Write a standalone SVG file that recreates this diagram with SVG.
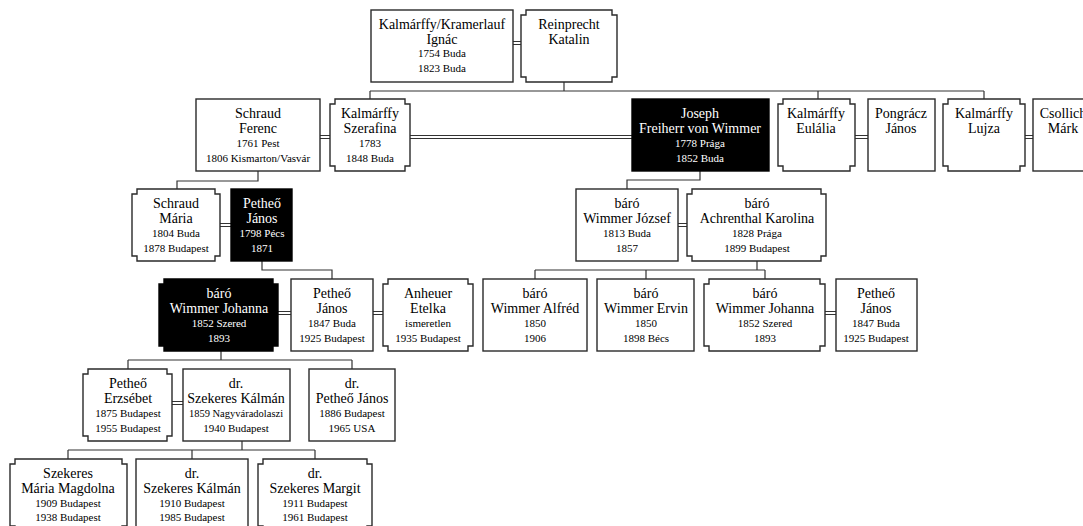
<svg xmlns="http://www.w3.org/2000/svg" width="1083" height="526" viewBox="0 0 1083 526">
<style>
.bx{fill:#fff;stroke:#2a2a2a;stroke-width:1.4}
.bk{fill:#000;stroke:#000;stroke-width:1.4}
.ln{fill:none;stroke:#333;stroke-width:1.2}
.dl{fill:none;stroke:#333;stroke-width:1}
text{font-family:"Liberation Serif","Times New Roman",serif;text-anchor:middle;fill:#000}
.n{font-size:14px}
.d{font-size:11px}
.w{fill:#fff}
</style>
<rect width="1083" height="526" fill="#fff"/>
<g id="connectors">
<path class="ln" d="M564 82V91M370 91H984M370 91V99M818 91V99M984 91V99"/>
<path class="ln" d="M258 171V181H177V189"/>
<path class="ln" d="M700 171V180H627V189"/>
<path class="ln" d="M262 261V270H332V279"/>
<path class="ln" d="M757 261V270M535 270H765M535 270V279M646 270V279M765 270V279"/>
<path class="ln" d="M221 351V360M128 360H352M128 360V369M352 360V369"/>
<path class="ln" d="M242 441V450M68 450H315M68 450V459M192 450V459M315 450V459"/>
<path class="dl" d="M513 41.5H521M513 44.5H521"/>
<path class="dl" d="M320 135.5H330M320 138.5H330M410 135.5H632M410 138.5H632M855 135.5H868M855 138.5H868M1025 135.5H1033M1025 138.5H1033"/>
<path class="dl" d="M220 223.5H231M220 226.5H231M678 223.5H687M678 226.5H687"/>
<path class="dl" d="M278 311.5H291M278 314.5H291M373 311.5H383M373 314.5H383M825 311.5H836M825 314.5H836"/>
<path class="dl" d="M172 401.5H183M172 404.5H183"/>
</g>
<g id="ignac">
<rect class="bx" x="371" y="10" width="142" height="72"/>
<text class="n" x="442" y="29">Kalmárffy/Kramerlauf</text>
<text class="n" x="442" y="44">Ignác</text>
<text class="d" x="442" y="57">1754 Buda</text>
<text class="d" x="442" y="72">1823 Buda</text>
</g>
<g id="reinprecht">
<path class="bx" d="M526 10H612V15H617V77H612V82H526V77H521V15H526Z"/>
<text class="n" x="569" y="29">Reinprecht</text>
<text class="n" x="569" y="44">Katalin</text>
</g>
<g id="ferenc">
<rect class="bx" x="196" y="99" width="124" height="72"/>
<text class="n" x="258" y="118">Schraud</text>
<text class="n" x="258" y="133">Ferenc</text>
<text class="d" x="258" y="147">1761 Pest</text>
<text class="d" x="258" y="162">1806 Kismarton/Vasvár</text>
</g>
<g id="szerafina">
<path class="bx" d="M335 99H405V104H410V166H405V171H335V166H330V104H335Z"/>
<text class="n" x="370" y="118">Kalmárffy</text>
<text class="n" x="370" y="133">Szerafina</text>
<text class="d" x="370" y="147">1783</text>
<text class="d" x="370" y="162">1848 Buda</text>
</g>
<g id="joseph">
<rect class="bk" x="632" y="99" width="137" height="72"/>
<text class="n w" x="700" y="118">Joseph</text>
<text class="n w" x="700" y="133">Freiherr von Wimmer</text>
<text class="d w" x="700" y="147">1778 Prága</text>
<text class="d w" x="700" y="162">1852 Buda</text>
</g>
<g id="eulalia">
<path class="bx" d="M783 99H850V104H855V166H850V171H783V166H778V104H783Z"/>
<text class="n" x="816" y="118">Kalmárffy</text>
<text class="n" x="816" y="133">Eulália</text>
</g>
<g id="pongracz">
<rect class="bx" x="868" y="99" width="67" height="72"/>
<text class="n" x="901" y="118">Pongrácz</text>
<text class="n" x="901" y="133">János</text>
</g>
<g id="lujza">
<path class="bx" d="M948 99H1020V104H1025V166H1020V171H948V166H943V104H948Z"/>
<text class="n" x="984" y="118">Kalmárffy</text>
<text class="n" x="984" y="133">Lujza</text>
</g>
<g id="csollich">
<rect class="bx" x="1033" y="99" width="68" height="72"/>
<text class="n" x="1063" y="118">Csollich</text>
<text class="n" x="1063" y="133">Márk</text>
</g>
<g id="maria">
<path class="bx" d="M137 189H215V194H220V256H215V261H137V256H132V194H137Z"/>
<text class="n" x="176" y="208">Schraud</text>
<text class="n" x="176" y="223">Mária</text>
<text class="d" x="176" y="237">1804 Buda</text>
<text class="d" x="176" y="252">1878 Budapest</text>
</g>
<g id="pethejanos1">
<rect class="bk" x="231" y="189" width="61" height="72"/>
<text class="n w" x="262" y="208">Petheő</text>
<text class="n w" x="262" y="223">János</text>
<text class="d w" x="262" y="237">1798 Pécs</text>
<text class="d w" x="262" y="252">1871</text>
</g>
<g id="jozsef">
<rect class="bx" x="576" y="189" width="102" height="72"/>
<text class="n" x="627" y="208">báró</text>
<text class="n" x="627" y="223">Wimmer József</text>
<text class="d" x="627" y="237">1813 Buda</text>
<text class="d" x="627" y="252">1857</text>
</g>
<g id="achrenthal">
<path class="bx" d="M692 189H821V194H826V256H821V261H692V256H687V194H692Z"/>
<text class="n" x="757" y="208">báró</text>
<text class="n" x="757" y="223">Achrenthal Karolina</text>
<text class="d" x="757" y="237">1828 Prága</text>
<text class="d" x="757" y="252">1899 Budapest</text>
</g>
<g id="johanna1">
<path class="bk" d="M164 279H273V284H278V346H273V351H164V346H159V284H164Z"/>
<text class="n w" x="219" y="298">báró</text>
<text class="n w" x="219" y="313">Wimmer Johanna</text>
<text class="d w" x="219" y="327">1852 Szered</text>
<text class="d w" x="219" y="342">1893</text>
</g>
<g id="pethejanos2">
<rect class="bx" x="291" y="279" width="82" height="72"/>
<text class="n" x="332" y="298">Petheő</text>
<text class="n" x="332" y="313">János</text>
<text class="d" x="332" y="327">1847 Buda</text>
<text class="d" x="332" y="342">1925 Budapest</text>
</g>
<g id="anheuer">
<path class="bx" d="M388 279H468V284H473V346H468V351H388V346H383V284H388Z"/>
<text class="n" x="428" y="298">Anheuer</text>
<text class="n" x="428" y="313">Etelka</text>
<text class="d" x="428" y="327">ismeretlen</text>
<text class="d" x="428" y="342">1935 Budapest</text>
</g>
<g id="alfred">
<rect class="bx" x="483" y="279" width="104" height="72"/>
<text class="n" x="535" y="298">báró</text>
<text class="n" x="535" y="313">Wimmer Alfréd</text>
<text class="d" x="535" y="327">1850</text>
<text class="d" x="535" y="342">1906</text>
</g>
<g id="ervin">
<rect class="bx" x="597" y="279" width="97" height="72"/>
<text class="n" x="646" y="298">báró</text>
<text class="n" x="646" y="313">Wimmer Ervin</text>
<text class="d" x="646" y="327">1850</text>
<text class="d" x="646" y="342">1898 Bécs</text>
</g>
<g id="johanna2">
<path class="bx" d="M709 279H820V284H825V346H820V351H709V346H704V284H709Z"/>
<text class="n" x="765" y="298">báró</text>
<text class="n" x="765" y="313">Wimmer Johanna</text>
<text class="d" x="765" y="327">1852 Szered</text>
<text class="d" x="765" y="342">1893</text>
</g>
<g id="pethejanos3">
<rect class="bx" x="836" y="279" width="81" height="72"/>
<text class="n" x="876" y="298">Petheő</text>
<text class="n" x="876" y="313">János</text>
<text class="d" x="876" y="327">1847 Buda</text>
<text class="d" x="876" y="342">1925 Budapest</text>
</g>
<g id="erzsebet">
<path class="bx" d="M88 369H167V374H172V436H167V441H88V436H83V374H88Z"/>
<text class="n" x="128" y="388">Petheő</text>
<text class="n" x="128" y="403">Erzsébet</text>
<text class="d" x="128" y="417">1875 Budapest</text>
<text class="d" x="128" y="432">1955 Budapest</text>
</g>
<g id="kalman1">
<rect class="bx" x="183" y="369" width="107" height="72"/>
<text class="n" x="236" y="388">dr.</text>
<text class="n" x="236" y="403">Szekeres Kálmán</text>
<text class="d" x="236" y="417" style="font-size:10.5px">1859 Nagyváradolaszi</text>
<text class="d" x="236" y="432">1940 Budapest</text>
</g>
<g id="drpethe">
<rect class="bx" x="309" y="369" width="86" height="72"/>
<text class="n" x="352" y="388">dr.</text>
<text class="n" x="352" y="403">Petheő János</text>
<text class="d" x="352" y="417">1886 Budapest</text>
<text class="d" x="352" y="432">1965 USA</text>
</g>
<g id="magdolna">
<path class="bx" d="M15 459H122V464H127V526H122V531H15V526H10V464H15Z"/>
<text class="n" x="68" y="478">Szekeres</text>
<text class="n" x="68" y="493">Mária Magdolna</text>
<text class="d" x="68" y="507">1909 Budapest</text>
<text class="d" x="68" y="521">1938 Budapest</text>
</g>
<g id="kalman2">
<rect class="bx" x="136" y="459" width="112" height="72"/>
<text class="n" x="192" y="478">dr.</text>
<text class="n" x="192" y="493">Szekeres Kálmán</text>
<text class="d" x="192" y="507">1910 Budapest</text>
<text class="d" x="192" y="521">1985 Budapest</text>
</g>
<g id="margit">
<path class="bx" d="M263 459H367V464H372V526H367V531H263V526H258V464H263Z"/>
<text class="n" x="315" y="478">dr.</text>
<text class="n" x="315" y="493">Szekeres Margit</text>
<text class="d" x="315" y="507">1911 Budapest</text>
<text class="d" x="315" y="521">1961 Budapest</text>
</g>
</svg>
